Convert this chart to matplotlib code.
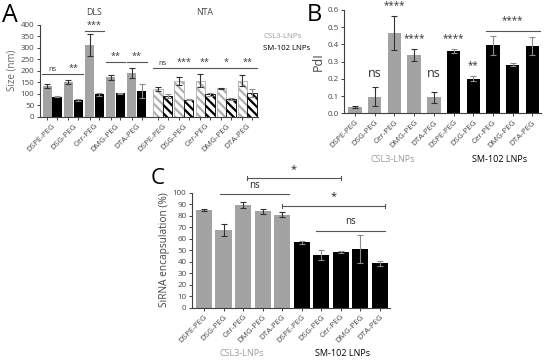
import matplotlib
matplotlib.use("Agg")
import matplotlib.pyplot as plt
import numpy as np

plt.rcParams['font.family'] = ['Open Sans', 'DejaVu Sans']
plt.rcParams['hatch.linewidth'] = 1.6

# ---------------- data ----------------
peg = ["DSPE-PEG", "DSG-PEG", "Cer-PEG", "DMG-PEG", "DTA-PEG"]

# Panel A: size (nm)
dls_csl3 = [133, 152, 312, 171, 191]
dls_csl3_err = [9, 8, 46, 11, 22]
dls_sm = [87, 73, 97, 101, 112]
dls_sm_err = [3, 5, 8, 3, 30]
nta_csl3 = [119, 155, 157, 123, 157]
nta_csl3_err = [9, 19, 28, 2, 25]
nta_sm = [90, 73, 97, 77, 102]
nta_sm_err = [8, 2, 8, 4, 18]
dls_sig = ["ns", "**", "***", "**", "**"]
dls_sig_y = [186, 186, 374, 239, 239]
nta_sig = ["ns", "***", "**", "*", "**"]
nta_sig_y = [212, 212, 212, 212, 212]

# Panel B: PdI
pdi_csl3 = [0.035, 0.097, 0.466, 0.337, 0.093]
pdi_csl3_err = [0.006, 0.056, 0.097, 0.035, 0.031]
pdi_sm = [0.362, 0.201, 0.395, 0.282, 0.393]
pdi_sm_err = [0.010, 0.014, 0.055, 0.010, 0.053]
pdi_sig = ["", "ns", "****", "****", "ns", "****", "**", "", "", ""]

# Panel C: siRNA encapsulation (%)
enc_csl3 = [84.8, 67.4, 89.2, 83.8, 80.7]
enc_csl3_err = [1.2, 5.0, 2.8, 2.3, 2.2]
enc_sm = [56.8, 45.8, 48.2, 50.8, 38.4]
enc_sm_err = [1.5, 4.0, 1.0, 12.0, 2.0]

GRAY = "#a3a3a3"
DARK = "#404040"
TXT = "#444444"

fig = plt.figure(figsize=(5.5, 3.64), dpi=100)
W, H = 550, 364


def add_ax(l, r, y0, ytop):
    return fig.add_axes([l / W, (H - y0) / H, (r - l) / W, (y0 - ytop) / H])


def style(ax):
    for s in ["top", "right"]:
        ax.spines[s].set_visible(False)
    for s in ["left", "bottom"]:
        ax.spines[s].set_color(DARK)
        ax.spines[s].set_linewidth(0.8)
    ax.tick_params(axis="both", colors=DARK, labelcolor=TXT, labelsize=5.8,
                   width=0.7, length=2.5, pad=1.5)


def ftext(x, y, s, **kw):
    fig.text(x / W, 1 - y / H, s, **kw)


ekw_g = dict(ecolor="#333333", elinewidth=0.8, capsize=2.3, capthick=0.8)
ekw_b = dict(ecolor="#8c8c8c", elinewidth=0.8, capsize=2.3, capthick=0.8)

# ---------------- Panel A ----------------
axA = add_ax(40, 258, 116.7, 24.7)
style(axA)
n = len(peg)
dls_x = np.arange(n)
nta_x = np.arange(n) + 5.24
bw = 0.44
off = 0.23
axA.bar(dls_x - off, dls_csl3, bw, color=GRAY, yerr=dls_csl3_err, error_kw=ekw_g)
axA.bar(dls_x + off, dls_sm, bw, color="black", yerr=dls_sm_err, error_kw=ekw_b)
axA.bar(nta_x - off, nta_csl3, bw, color="white", edgecolor="#b0b0b0",
        hatch="\\\\\\\\", linewidth=0.6, yerr=nta_csl3_err, error_kw=ekw_g)
axA.bar(nta_x + off, nta_sm, bw, color="white", edgecolor="black",
        hatch="\\\\\\\\", linewidth=0.6, yerr=nta_sm_err, error_kw=ekw_b)
axA.set_ylim(0, 400)
axA.set_yticks(np.arange(0, 401, 50))
axA.set_xlim(-0.58, 9.75)
ticks = np.concatenate([np.ravel(np.column_stack([dls_x - off, dls_x + off])),
                        np.ravel(np.column_stack([nta_x - off, nta_x + off]))])
axA.set_xticks(ticks, minor=False)
axA.set_xticklabels([""] * len(ticks))
axA.set_xticks(np.concatenate([dls_x, nta_x]), minor=True)
axA.set_xticklabels(peg + peg, minor=True, rotation=45, ha="right",
                    rotation_mode="anchor", fontsize=5.8, color=TXT)
axA.tick_params(axis="x", which="minor", length=0, pad=4)
axA.set_ylabel("Size (nm)", fontsize=7, color="#666666", labelpad=2)
for xs, sig, ys in [(dls_x, dls_sig, dls_sig_y), (nta_x, nta_sig, nta_sig_y)]:
    for x, s, y in zip(xs, sig, ys):
        axA.plot([x - 0.47, x + 0.47], [y, y], color="#555555", lw=0.8, clip_on=False)
        axA.annotate(s, (x, y), xytext=(0, 0.5), textcoords="offset points",
                     ha="center", va="bottom", fontsize=5.5 if s == "ns" else 6.5,
                     color="#333333", annotation_clip=False)
axA.text(2, 452, "DLS", ha="center", va="center", fontsize=6.3, color=TXT, clip_on=False)
axA.text(7.24, 452, "NTA", ha="center", va="center", fontsize=6.3, color=TXT, clip_on=False)
ftext(263, 36, "CSL3-LNPs", ha="left", va="center", fontsize=5.6, color="#9a9a9a")
ftext(263, 49, "SM-102 LNPs", ha="left", va="center", fontsize=5.6, color="black")

# ---------------- Panel B ----------------
axB = add_ax(344, 541, 113.3, 10)
style(axB)
xb = np.arange(10)
bwB = 0.68
axB.bar(xb[:5], pdi_csl3, bwB, color=GRAY, yerr=pdi_csl3_err, error_kw=ekw_g)
axB.bar(xb[5:], pdi_sm, bwB, color="black", yerr=pdi_sm_err, error_kw=ekw_b)
axB.set_ylim(0, 0.6)
axB.set_yticks(np.round(np.arange(0, 0.61, 0.1), 1))
axB.set_yticklabels([f"{v:.1f}" for v in np.arange(0, 0.61, 0.1)])
axB.set_xlim(-0.56, 9.44)
axB.set_xticks(xb)
axB.set_xticklabels(peg + peg, rotation=45, ha="right", rotation_mode="anchor",
                    fontsize=5.8, color=TXT)
axB.set_ylabel("PdI", fontsize=9, color="#444444", labelpad=2)
vals = pdi_csl3 + pdi_sm
errs = pdi_csl3_err + pdi_sm_err
for x, s, v, e in zip(xb, pdi_sig, vals, errs):
    if not s:
        continue
    if s == "ns":
        axB.text(x, 0.232, s, ha="center", va="center", fontsize=9, color="#333333")
    else:
        axB.annotate(s, (x, v + e), xytext=(0, 4), textcoords="offset points",
                     ha="center", va="bottom", fontsize=7, color="#333333",
                     annotation_clip=False)
axB.plot([6.65, 9.4], [0.48, 0.48], color="#555555", lw=0.8, clip_on=False)
axB.annotate("****", (8.0, 0.48), xytext=(0, 3), textcoords="offset points",
             ha="center", va="bottom", fontsize=7, color="#333333", annotation_clip=False)
ftext(393, 159, "CSL3-LNPs", ha="center", va="center", fontsize=6.5, color="#9a9a9a")
ftext(500, 159, "SM-102 LNPs", ha="center", va="center", fontsize=6.5, color="black")

# ---------------- Panel C ----------------
axC = add_ax(192, 390, 307.7, 192.5)
style(axC)
xc = np.arange(10)
bwC = 0.82
axC.bar(xc[:5], enc_csl3, bwC, color=GRAY, yerr=enc_csl3_err, error_kw=ekw_g)
axC.bar(xc[5:], enc_sm, bwC, color="black", yerr=enc_sm_err, error_kw=ekw_b)
axC.set_ylim(0, 100)
axC.set_yticks(np.arange(0, 101, 10))
axC.set_xlim(-0.61, 9.51)
axC.set_xticks(xc)
axC.set_xticklabels(peg + peg, rotation=45, ha="right", rotation_mode="anchor",
                    fontsize=5.8, color=TXT)
axC.set_ylabel("SiRNA encapsulation (%)", fontsize=7.3, color="#444444", labelpad=2)


def sigline(ax, x1, x2, y, s, caps, fs):
    ax.plot([x1, x2], [y, y], color="#555555", lw=0.8, clip_on=False)
    if caps:
        for xx in (x1, x2):
            ax.plot([xx, xx], [y - 1.6, y + 1.6], color="#555555", lw=0.8, clip_on=False)
    ax.annotate(s, ((x1 + x2) / 2, y), xytext=(0, 2.5), textcoords="offset points",
                ha="center", va="bottom", fontsize=fs, color="#222222",
                annotation_clip=False)


sigline(axC, 0.82, 4.36, 98.4, "ns", False, 7)
sigline(axC, 2.2, 7.0, 112.3, "*", True, 8)
sigline(axC, 3.97, 9.26, 88.5, "*", True, 8)
sigline(axC, 5.73, 9.26, 66.9, "ns", False, 7)
ftext(242, 353, "CSL3-LNPs", ha="center", va="center", fontsize=6.5, color="#9a9a9a")
ftext(343, 353, "SM-102 LNPs", ha="center", va="center", fontsize=6.5, color="black")

# panel letters
ftext(2, 3, "A", ha="left", va="top", fontsize=18, color="black")
ftext(307, 3, "B", ha="left", va="top", fontsize=17, color="black")
ftext(151, 168, "C", ha="left", va="top", fontsize=16, color="black")

fig.savefig("out.png", dpi=100)
